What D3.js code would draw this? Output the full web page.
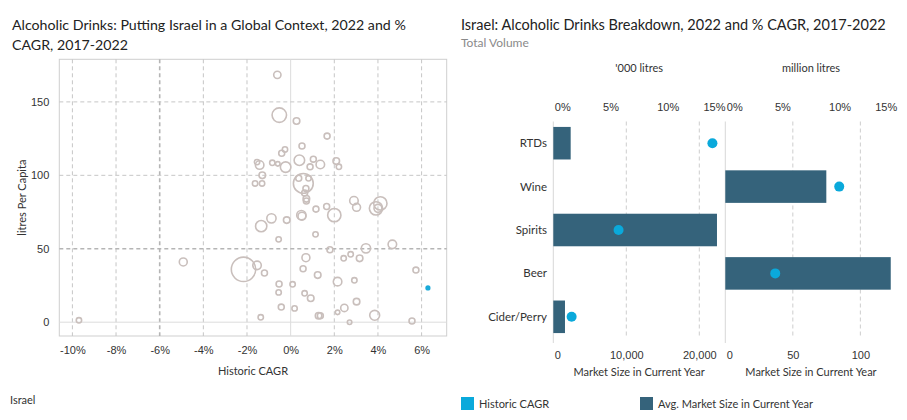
<!DOCTYPE html>
<html>
<head>
<meta charset="utf-8">
<script src="https://cdn.jsdelivr.net/npm/d3@7"></script>
<style>
  body { margin: 0; background: #fff; }
  svg { font-family: Lato, "Open Sans", sans-serif; }
  .tick-lbl { font-size: 11px; fill: #333; }
</style>
</head>
<body>
<svg id="chart" width="907" height="420"></svg>
<script>
// ---- left panel: global context (one bubble per country) ----
var cagrX = [-0.61, -0.52, 0.27, 1.67, 0.52, -0.26, -0.41, -1.54, -1.42, -0.84,
  -0.59, -0.23, 0.40, 1.04, 0.89, 1.36, 2.09, 2.21, -1.30, -1.63,
  -1.31, 0.58, 0.37, 0.82, 0.70, 0.64, 0.72, 0.72, 2.90, 3.02,
  3.91, 4.11, 4.00, 1.16, 1.65, 2.00, 0.49, 0.52, -0.88, -0.18,
  -1.35, -0.55, 1.14, 1.80, 2.43, 2.75, 3.16, 3.45, 4.66, 5.74,
  0.70, -2.16, -1.54, -1.20, 0.57, 1.24, -0.53, 0.09, 2.15, 2.92,
  -0.55, 0.64, 0.92, 3.02, -0.43, 0.18, 2.46, 2.15, -1.37, 1.28,
  1.36, 2.70, 3.85, 5.56, -9.70, -4.92];
var perCapita = [168.4, 141, 137, 126.7, 120, 117.6, 115, 109, 107, 108.5,
  107.8, 105.6, 110.3, 111, 105.8, 107.4, 109.7, 105.8, 100, 94.5,
  94.5, 94.5, 98, 98, 91, 88, 84, 82.5, 82.7, 78.2,
  77.5, 80.9, 77.5, 77, 78.8, 72.9, 72.9, 72.2, 70.7, 69.5,
  65.4, 56.4, 59.8, 49.3, 43.5, 46.2, 43.5, 50.3, 53, 35.5,
  43.9, 36, 38.7, 33.5, 36.4, 32.1, 26, 25.8, 27.6, 28.5,
  20.3, 19.7, 16.3, 14, 10.3, 9.4, 9.7, 6.7, 3.3, 4.4,
  4.4, 0, 4.7, 0.8, 1.3, 41];
var totalVolume = [260, 1020, 210, 173, 173, 140, 173, 140, 355, 140,
  100, 540, 540, 173, 173, 355, 210, 140, 210, 140,
  140, 1920, 173, 140, 173, 173, 210, 173, 355, 307,
  860, 860, 307, 173, 173, 860, 420, 307, 420, 210,
  620, 140, 140, 173, 140, 140, 210, 420, 355, 173,
  307, 2900, 355, 173, 173, 210, 173, 140, 355, 140,
  140, 140, 210, 210, 173, 140, 260, 100, 140, 210,
  173, 100, 480, 173, 140, 307];
var israel = { cagr: 6.29, perCapita: 23.3 };
var xTicksL = [-10, -8, -6, -4, -2, 0, 2, 4, 6];
var yTicksL = [0, 50, 100, 150];

// ---- right panel: Israel breakdown ----
var categories = ["RTDs", "Wine", "Spirits", "Beer", "Cider/Perry"];
var marketSize = [2380, 74.8, 22420, 122.5, 1600];
var sizeUnit = ["'000 litres", "million litres", "'000 litres", "million litres", "'000 litres"];
var catCagr = [13.9, 9.97, 5.7, 4.37, 1.6];
var unitGroups = ["'000 litres", "million litres"];
var sizeTicks = [[0, 10000, 20000], [0, 50, 100]];
var pctTicks = [0, 5, 10, 15];

var svg = d3.select("#chart");
var GRID = "#c6c6c6";

// titles
var t1 = svg.append("text").attr("x", 12).attr("y", 30).attr("font-size", 14.2).attr("fill", "#222");
t1.append("tspan").attr("x", 12).text("Alcoholic Drinks: Putting Israel in a Global Context, 2022 and %");
t1.append("tspan").attr("x", 12).attr("dy", 19.5).text("CAGR, 2017-2022");
svg.append("text").attr("x", 461).attr("y", 30).attr("font-size", 14.5).attr("fill", "#222")
  .text("Israel: Alcoholic Drinks Breakdown, 2022 and % CAGR, 2017-2022");
svg.append("text").attr("x", 461).attr("y", 46.5).attr("font-size", 12).attr("fill", "#8a8a8a")
  .text("Total Volume");

// ===== left scatter =====
var L = { x0: 59.3, x1: 446.7, y0: 59.3, y1: 336 };
var x = d3.scaleLinear().domain([-10.6, 7.15]).range([L.x0, L.x1]);
var y = d3.scaleLinear().domain([-9.4, 179]).range([L.y1, L.y0]);
var r = d3.scaleSqrt().domain([0, 3000]).range([0, 12.4]);

var gl = svg.append("g");
gl.append("rect").attr("x", L.x0).attr("y", L.y0).attr("width", L.x1 - L.x0).attr("height", L.y1 - L.y0)
  .attr("fill", "none").attr("stroke", "#cfcfcf");

// grid
xTicksL.forEach(function (t) {
  var zero = t === 0, ref = t === -6;
  gl.append("line").attr("x1", x(t)).attr("x2", x(t)).attr("y1", L.y0).attr("y2", L.y1)
    .attr("stroke", zero ? "#dcdcdc" : (ref ? "#b5b5b5" : GRID))
    .attr("stroke-width", ref ? 1.6 : 1)
    .attr("stroke-dasharray", zero ? null : "4,3");
});
yTicksL.forEach(function (t) {
  var zero = t === 0, ref = t === 50;
  gl.append("line").attr("x1", L.x0).attr("x2", L.x1).attr("y1", y(t)).attr("y2", y(t))
    .attr("stroke", zero ? "#dcdcdc" : (ref ? "#b5b5b5" : GRID))
    .attr("stroke-width", ref ? 1.6 : 1)
    .attr("stroke-dasharray", zero ? null : "4,3");
});

// axes via d3
var xAxisL = gl.append("g").attr("transform", "translate(0," + (L.y1 + 5) + ")")
  .call(d3.axisBottom(x).tickValues(xTicksL).tickSize(0).tickFormat(function (d) { return d + "%"; }));
var yAxisL = gl.append("g").attr("transform", "translate(" + (L.x0 - 7) + ",0)")
  .call(d3.axisLeft(y).tickValues(yTicksL).tickSize(0));
[xAxisL, yAxisL].forEach(function (a) {
  a.select(".domain").remove();
  a.selectAll("text").attr("class", "tick-lbl").attr("font-family", null).attr("font-size", null);
});
xAxisL.selectAll("text").attr("dy", "0.9em");
gl.append("text").attr("x", (L.x0 + L.x1) / 2).attr("y", 375).attr("text-anchor", "middle")
  .attr("font-size", 11).attr("fill", "#333").text("Historic CAGR");
gl.append("text").attr("transform", "translate(26," + ((L.y0 + L.y1) / 2) + ") rotate(-90)")
  .attr("text-anchor", "middle").attr("font-size", 11).attr("fill", "#333").text("litres Per Capita");

// bubbles
var pts = cagrX.map(function (c, i) { return { c: c, v: perCapita[i], s: totalVolume[i] }; });
gl.append("g").selectAll("circle").data(pts).join("circle")
  .attr("cx", function (d) { return x(d.c); })
  .attr("cy", function (d) { return y(d.v); })
  .attr("r", function (d) { return r(d.s); })
  .attr("fill", "none").attr("stroke", "#c9bfbc").attr("stroke-width", 1.6);
gl.append("circle").attr("cx", x(israel.cagr)).attr("cy", y(israel.perCapita)).attr("r", 2.6)
  .attr("fill", "#1aaad9");

// ===== right bars =====
var R = { y0: 121.5, y1: 338.5 };
var sub = [{ x0: 553.3, x1: 725 }, { x0: 725.3, x1: 896.7 }];
var band = d3.scaleBand().domain(categories).range([R.y0, R.y1]).paddingInner(0.25).paddingOuter(0.125);
var gr = svg.append("g");

unitGroups.forEach(function (u, gi) {
  var p = sub[gi];
  var idx = categories.map(function (c, i) { return i; }).filter(function (i) { return sizeUnit[i] === u; });
  var maxV = d3.max(idx, function (i) { return marketSize[i]; });
  var sx = d3.scaleLinear().domain([0, maxV * (gi === 0 ? 1.049 : 1.036)]).range([p.x0, p.x1]);
  var px = d3.scaleLinear().domain([0, 15]).range([p.x0, p.x1]);

  // grid
  sizeTicks[gi].forEach(function (t) {
    gr.append("line").attr("x1", sx(t)).attr("x2", sx(t)).attr("y1", R.y0).attr("y2", t === 0 ? 343 : R.y1)
      .attr("stroke", t === 0 ? "#d8d8d8" : "#cdcdcd").attr("stroke-width", 1)
      .attr("stroke-dasharray", t === 0 ? null : "4,3");
  });

  // bottom axis
  var ax = gr.append("g").attr("transform", "translate(0," + (R.y1 + 10) + ")")
    .call(d3.axisBottom(sx).tickValues(sizeTicks[gi]).tickSize(0).tickFormat(d3.format(",")));
  ax.select(".domain").remove();
  ax.selectAll("text").attr("class", "tick-lbl").attr("font-family", null).attr("font-size", null)
    .attr("text-anchor", function (d) { return d === 0 ? "start" : "middle"; })
    .attr("dx", function (d) { return d === 0 ? 1 : 0; });
  gr.append("text").attr("x", (p.x0 + p.x1) / 2).attr("y", 376).attr("text-anchor", "middle")
    .attr("font-size", 11).attr("fill", "#333").text("Market Size in Current Year");

  // top percent axis
  var at = gr.append("g").attr("transform", "translate(0,114)")
    .call(d3.axisTop(px).tickValues(pctTicks).tickSize(0).tickFormat(function (d) { return d + "%"; }));
  at.select(".domain").remove();
  at.selectAll("text").attr("class", "tick-lbl").attr("font-family", null).attr("font-size", null)
    .attr("text-anchor", function (d) { return d === 0 ? "start" : (d === 15 ? "end" : "middle"); })
    .attr("dx", function (d) { return d === 0 ? 1 : 0; });
  gr.append("text").attr("x", (p.x0 + p.x1) / 2).attr("y", 72).attr("text-anchor", "middle")
    .attr("font-size", 11).attr("fill", "#333").text(u);

  // bars + dots
  idx.forEach(function (i) {
    gr.append("rect").attr("x", sx(0)).attr("y", band(categories[i]))
      .attr("width", sx(marketSize[i]) - sx(0)).attr("height", band.bandwidth())
      .attr("fill", "#35637b");
  });
  idx.forEach(function (i) {
    gr.append("circle").attr("cx", px(catCagr[i])).attr("cy", band(categories[i]) + band.bandwidth() / 2)
      .attr("r", 5).attr("fill", "#0aa9db");
  });
});

// category labels
categories.forEach(function (c) {
  gr.append("text").attr("x", 547).attr("y", band(c) + band.bandwidth() / 2).attr("dy", "0.35em")
    .attr("text-anchor", "end").attr("font-size", 11.5).attr("fill", "#333").text(c);
});

// footer + legend
svg.append("text").attr("x", 10).attr("y", 404).attr("font-size", 11).attr("fill", "#333").text("Israel");
var legend = [{ label: "Historic CAGR", color: "#0aa9db", x: 461 }, { label: "Avg. Market Size in Current Year", color: "#35637b", x: 640 }];
var lg = svg.append("g").selectAll("g").data(legend).join("g")
  .attr("transform", function (d) { return "translate(" + d.x + ",397)"; });
lg.append("rect").attr("width", 13).attr("height", 13).attr("fill", function (d) { return d.color; });
lg.append("text").attr("x", 18).attr("y", 11).attr("font-size", 11).attr("fill", "#333").text(function (d) { return d.label; });
</script>
</body>
</html>
